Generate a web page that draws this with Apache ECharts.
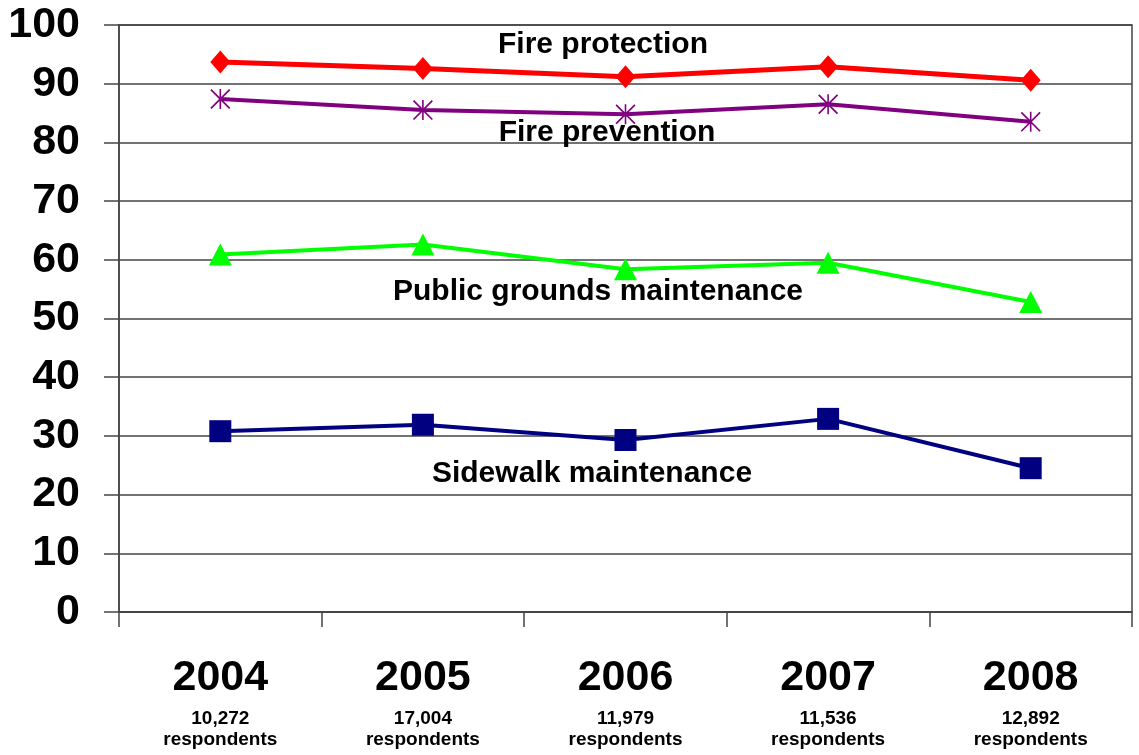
<!DOCTYPE html>
<html>
<head>
<meta charset="utf-8">
<script src="https://cdn.jsdelivr.net/npm/echarts@6/dist/echarts.min.js"></script>
<style>
  html, body { margin: 0; padding: 0; background: #ffffff; }
  #chart { width: 1139px; height: 755px; }
</style>
</head>
<body>
<div id="chart"></div>
<script>
// Survey years and number of respondents per year
const years = ['2004', '2005', '2006', '2007', '2008'];
const respondents = ['10,272', '17,004', '11,979', '11,536', '12,892'];

// Percent rating each service positively
const fireProtection = [93.7, 92.6, 91.2, 92.9, 90.6];
const firePrevention = [87.4, 85.5, 84.8, 86.5, 83.5];
const publicGrounds = [60.9, 62.6, 58.4, 59.5, 52.8];
const sidewalk = [30.8, 31.9, 29.3, 32.9, 24.5];

// Value axis ticks
const yTicks = { min: 0, max: 100, interval: 10 };

const FONT = '"Liberation Sans", Arial, Helvetica, sans-serif';
const GRID_COLOR = '#444444';

// Asterisk marker: vertical bar plus two diagonals
const asteriskPath = 'path://M46 0 L54 0 L54 100 L46 100 Z M0 6 L6 0 L100 94 L94 100 Z M94 0 L100 6 L6 100 L0 94 Z';

const chart = echarts.init(document.getElementById('chart'), null, { renderer: 'canvas' });

function lineSeries(name, data, color, symbol, size, width) {
  return {
    name: name,
    type: 'line',
    data: data,
    symbol: symbol,
    symbolSize: size,
    showAllSymbol: true,
    lineStyle: { color: color, width: width },
    itemStyle: { color: color, opacity: 1 },
    emphasis: { disabled: true },
    z: 3,
    animation: false
  };
}

// Series name printed next to its line, centred on (cx, cy)
function seriesTitle(text, cx, cy) {
  return {
    type: 'text',
    x: cx,
    y: cy,
    z: 100,
    style: {
      text: text,
      x: 0, y: 0,
      align: 'center',
      verticalAlign: 'middle',
      font: 'bold 30px ' + FONT,
      fill: '#000000'
    }
  };
}

chart.setOption({
  backgroundColor: '#ffffff',
  animation: false,
  grid: {
    left: 119, right: 7, top: 25, bottom: 143,
    show: true,
    borderColor: GRID_COLOR,
    borderWidth: 1.5,
    backgroundColor: 'transparent'
  },
  xAxis: {
    type: 'category',
    data: years,
    boundaryGap: true,
    axisLine: { show: true, lineStyle: { color: GRID_COLOR, width: 1.5 } },
    axisTick: { show: true, length: 15, inside: false, lineStyle: { color: GRID_COLOR, width: 1.5 } },
    splitLine: { show: false },
    axisLabel: {
      margin: 35,
      interval: 0,
      formatter: function (value, idx) {
        return '{year|' + value + '}\n{num|' + respondents[idx] + '}\n{resp|respondents}';
      },
      rich: {
        year: { fontFamily: FONT, fontWeight: 'bold', fontSize: 43, lineHeight: 62, color: '#000', align: 'center' },
        num: { fontFamily: FONT, fontWeight: 'bold', fontSize: 19, lineHeight: 20, color: '#000', align: 'center' },
        resp: { fontFamily: FONT, fontWeight: 'bold', fontSize: 19, lineHeight: 22, color: '#000', align: 'center' }
      }
    }
  },
  yAxis: {
    type: 'value',
    min: yTicks.min,
    max: yTicks.max,
    interval: yTicks.interval,
    axisLine: { show: true, lineStyle: { color: GRID_COLOR, width: 1.5 } },
    axisTick: { show: true, length: 15, inside: false, lineStyle: { color: GRID_COLOR, width: 1.5 } },
    splitLine: { show: true, lineStyle: { color: GRID_COLOR, width: 1.5 } },
    axisLabel: {
      margin: 39,
      fontFamily: FONT,
      fontWeight: 'bold',
      fontSize: 43,
      color: '#000000'
    }
  },
  series: [
    lineSeries('Fire protection', fireProtection, '#ff0000', 'diamond', [20, 23], 5),
    lineSeries('Fire prevention', firePrevention, '#800080', asteriskPath, [20, 20], 4),
    lineSeries('Public grounds maintenance', publicGrounds, '#00ff00', 'triangle', [23, 22], 4),
    lineSeries('Sidewalk maintenance', sidewalk, '#000080', 'rect', [22, 22], 4)
  ],
  graphic: [
    seriesTitle('Fire protection', 603, 45),
    seriesTitle('Fire prevention', 607, 133),
    seriesTitle('Public grounds maintenance', 598, 292),
    seriesTitle('Sidewalk maintenance', 592, 474)
  ]
});
</script>
</body>
</html>
